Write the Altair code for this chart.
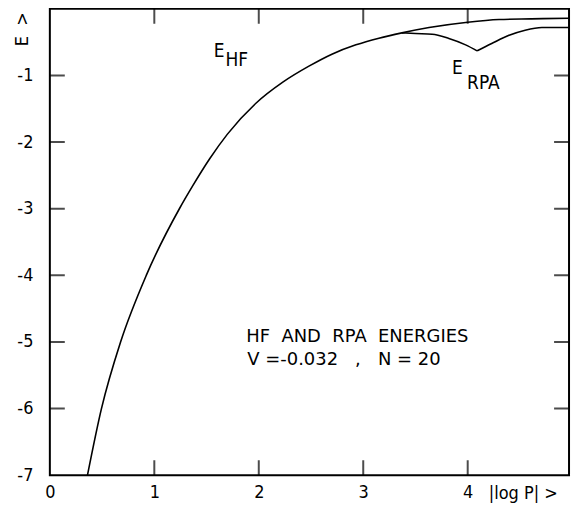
import altair as alt
import pandas as pd

FONT = "DejaVu Sans Condensed, Liberation Sans Narrow, Arial Narrow, sans-serif"
FONT_WIDE = "DejaVu Sans, Verdana, sans-serif"
SP = "\u00a0"

# E_HF curve (shared with E_RPA up to the split)
hf_x = [0.36, 0.494, 0.677, 0.923, 1.24, 1.37, 1.53, 1.70, 1.97, 2.23, 2.48, 2.70,
        2.93, 3.15, 3.37, 3.63, 4.00, 4.30, 4.61, 4.97]
hf_y = [-7.0, -6.0, -5.0, -4.0, -3.0, -2.65, -2.25, -1.88, -1.42, -1.10, -0.86, -0.68,
        -0.54, -0.44, -0.36, -0.28, -0.20, -0.16, -0.15, -0.14]

# E_RPA branch (after it separates from E_HF), two pieces around the cusp
rpa_a_x = [3.37, 3.50, 3.66, 3.82, 3.98, 4.09]
rpa_a_y = [-0.36, -0.37, -0.38, -0.445, -0.54, -0.63]
rpa_b_x = [4.09, 4.23, 4.39, 4.55, 4.71, 4.97]
rpa_b_y = [-0.63, -0.52, -0.40, -0.32, -0.28, -0.28]

x_ticks = [1, 2, 3, 4]
y_ticks = [-1, -2, -3, -4, -5, -6]
x_labels = [0, 1, 2, 3, 4]
y_labels = [-7, -6, -5, -4, -3, -2, -1]

X_MAX = 4.97

# annotation texts
ann_text = ["E", "HF", "E", "RPA"]
ann_x = [1.62, 1.79, 3.90, 4.15]
ann_y = [-0.63, -0.77, -0.89, -1.11]

info_text = ["HF" + SP * 2 + "AND" + SP * 2 + "RPA" + SP * 2 + "ENERGIES",
             "V" + SP + "=-0.032" + SP * 3 + "," + SP * 3 + "N" + SP + "=" + SP + "20"]
info_x = [1.88, 1.89]
info_y = [-4.93, -5.27]

curves = pd.DataFrame(
    [{"x": a, "y": b, "seg": "HF"} for a, b in zip(hf_x, hf_y)]
    + [{"x": a, "y": b, "seg": "RPA_a"} for a, b in zip(rpa_a_x, rpa_a_y)]
    + [{"x": a, "y": b, "seg": "RPA_b"} for a, b in zip(rpa_b_x, rpa_b_y)]
)

vt = pd.DataFrame([{"x": k, "y": -7} for k in x_ticks] + [{"x": k, "y": 0} for k in x_ticks])
ht = pd.DataFrame([{"x": 0, "y": k} for k in y_ticks] + [{"x": X_MAX, "y": k} for k in y_ticks])
ann = pd.DataFrame({"t": ann_text, "x": ann_x, "y": ann_y})
info = pd.DataFrame({"t": info_text, "x": info_x, "y": info_y})

xs = alt.Scale(domain=[0, X_MAX], nice=False, zero=False)
ys = alt.Scale(domain=[-7, 0], nice=False, zero=False)

xaxis = alt.Axis(values=x_labels, ticks=False, domain=False, grid=False, labelFlush=False,
                 labelExpr="'' + datum.value", labelFontSize=18, labelFont=FONT,
                 labelColor="black", labelPadding=8,
                 title="|log" + SP + "P|" + SP + ">", titleFont=FONT, titleFontSize=18,
                 titleFontWeight="normal",
                 titleColor="black", titleX=440, titleY=18, titleAlign="left",
                 titleBaseline="middle", titleAnchor="start")
yaxis = alt.Axis(values=y_labels, ticks=False, domain=False, grid=False, labelFlush=False,
                 labelExpr="'' + datum.value", labelFontSize=18, labelFont=FONT,
                 labelColor="black", labelPadding=17,
                 title="E" + SP * 2 + ">", titleFont=FONT, titleFontSize=18, titleFontWeight="normal",
                 titleColor="black", titleX=-27, titleY=20, titleAngle=-90,
                 titleAlign="center", titleBaseline="middle")

lines = alt.Chart(curves).mark_line(color="black", strokeWidth=1.6, interpolate="monotone").encode(
    x=alt.X("x:Q", scale=xs, axis=xaxis),
    y=alt.Y("y:Q", scale=ys, axis=yaxis),
    detail="seg:N",
)

vticks = alt.Chart(vt).mark_tick(orient="vertical", size=30, thickness=2, color="black", clip=True).encode(
    x=alt.X("x:Q", scale=xs), y=alt.Y("y:Q", scale=ys))
hticks = alt.Chart(ht).mark_tick(orient="horizontal", size=30, thickness=2, color="black", clip=True).encode(
    x=alt.X("x:Q", scale=xs), y=alt.Y("y:Q", scale=ys))

ann_layer = alt.Chart(ann).mark_text(font=FONT, fontSize=19, color="black", align="center",
                                     baseline="middle").encode(
    x=alt.X("x:Q", scale=xs), y=alt.Y("y:Q", scale=ys), text="t:N")

info_layer = alt.Chart(info).mark_text(font=FONT_WIDE, fontSize=18, color="black", align="left",
                                       baseline="middle").encode(
    x=alt.X("x:Q", scale=xs), y=alt.Y("y:Q", scale=ys), text="t:N")

chart = alt.layer(lines, vticks, hticks, ann_layer, info_layer).properties(
    width=521, height=468,
    background="white",
    autosize=alt.AutoSizeParams(type="none"),
    padding={"left": 42, "top": 0, "right": 8, "bottom": 30},
).configure_view(stroke="black", strokeWidth=2)

chart.save("out.html", embed_options={"renderer": "svg", "actions": False})
